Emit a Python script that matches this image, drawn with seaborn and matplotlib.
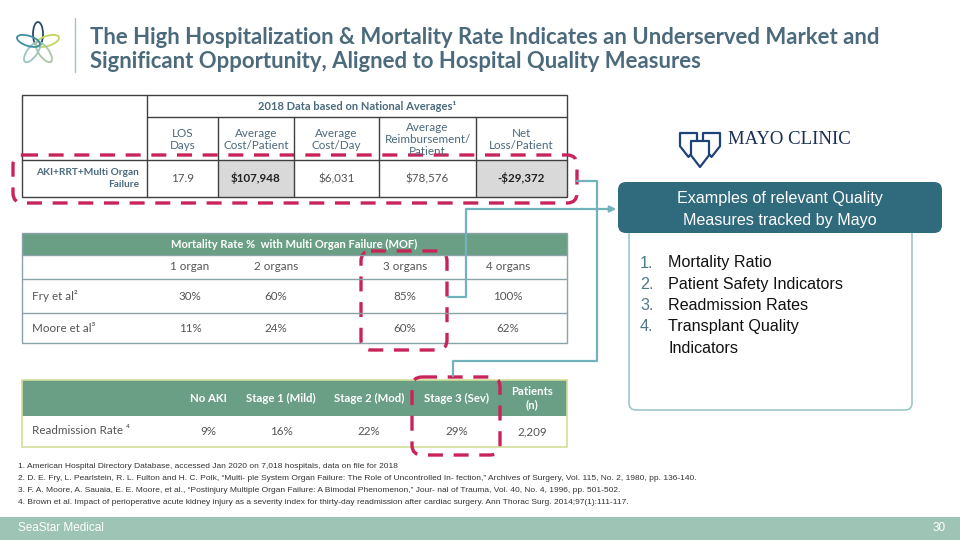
import numpy as np
import matplotlib
matplotlib.use("Agg")
import matplotlib.pyplot as plt
import seaborn as sns
from matplotlib.patches import Rectangle, FancyBboxPatch, Ellipse, Polygon

# ---- data ----
title_lines = ["The High Hospitalization & Mortality Rate Indicates an Underserved Market and",
               "Significant Opportunity, Aligned to Hospital Quality Measures"]

cost_header = "2018 Data based on National Averages\u00b9"
cost_cols = ["LOS\nDays", "Average\nCost/Patient", "Average\nCost/Day",
             "Average\nReimbursement/\nPatient", "Net\nLoss/Patient"]
cost_row = "AKI+RRT+Multi Organ\nFailure"
cost_vals = ["17.9", "$107,948", "$6,031", "$78,576", "-$29,372"]
cost_highlight = [False, True, False, False, True]

mof_header = "Mortality Rate %  with Multi Organ Failure (MOF)"
mof_cols = ["1 organ", "2 organs", "3 organs", "4 organs"]
mof_rows = ["Fry et al\u00b2", "Moore et al\u00b3"]
fry = [30, 60, 85, 100]
moore = [11, 24, 60, 62]

readmit_cols = ["No AKI", "Stage 1 (Mild)", "Stage 2 (Mod)", "Stage 3 (Sev)", "Patients\n(n)"]
readmit_row = "Readmission Rate \u2074"
readmit_rates = [9, 16, 22, 29]
readmit_n = "2,209"

mayo_title = ["Examples of relevant Quality", "Measures tracked by Mayo", "Clinic"]
mayo_items = [["Mortality Ratio"], ["Patient Safety Indicators"], ["Readmission Rates"],
              ["Transplant Quality", "Indicators"]]

footnotes = [
    "1. American Hospital Directory Database, accessed Jan 2020 on 7,018 hospitals, data on file for 2018",
    "2. D. E. Fry, L. Pearlstein, R. L. Fulton and H. C. Polk, \u201cMulti- ple System Organ Failure: The Role of Uncontrolled In- fection,\u201d Archives of Surgery, Vol. 115, No. 2, 1980, pp. 136-140.",
    "3. F. A. Moore, A. Sauaia, E. E. Moore, et al., \u201cPostinjury Multiple Organ Failure: A Bimodal Phenomenon,\u201d Jour- nal of Trauma, Vol. 40, No. 4, 1996, pp. 501-502.",
    "4. Brown et al. Impact of perioperative acute kidney injury as a severity index for thirty-day readmission after cardiac surgery. Ann Thorac Surg. 2014;97(1):111-117.",
]
footer_left = "SeaStar Medical"
page_no = "30"

# ---- style ----
sns.set_theme(style="white")
plt.rcParams["font.family"] = ["Lato", "DejaVu Sans"]
plt.rcParams["text.parse_math"] = False

SLATE = "#4b6a7b"
GREEN = "#6a9f86"
RED = "#c9245a"
TEAL = "#72b2ba"
GREY_TXT = "#555555"
ARIAL = ["Liberation Sans", "DejaVu Sans"]

fig = plt.figure(figsize=(9.6, 5.4), dpi=100)
ax = fig.add_axes([0, 0, 1, 1])
ax.set_xlim(0, 960)
ax.set_ylim(540, 0)
ax.axis("off")

# ---- logo + title ----
cx, cy = 38, 44
petal_cols = ["#2c4a6a", "#c6d55c", "#a9c8a2", "#9cc4c0", "#3f8fa0"]
for k, c in enumerate(petal_cols):
    ang = -90 + 72 * k
    px = cx + 10 * np.cos(np.radians(ang))
    py = cy + 10 * np.sin(np.radians(ang))
    ax.add_patch(Ellipse((px, py), 10, 24, angle=ang + 90, fill=False, ec=c, lw=1.3))
ax.plot([75, 75], [18, 72], color="#a9c5bb", lw=1)
for i, t in enumerate(title_lines):
    ax.text(90, 37 + 25 * i, t, fontsize=15.9, fontweight="bold", color=SLATE, va="center", ha="left")

# ---- table 1 : costs ----
x0, x1 = 22, 567
col_edges = [147, 218, 294, 379, 476, 567]
y_top, y_h2, y_data, y_bot = 95, 117, 160, 197
for xi, v, hl in zip(range(5), cost_vals, cost_highlight):
    if hl:
        ax.add_patch(Rectangle((col_edges[xi], y_data), col_edges[xi + 1] - col_edges[xi],
                               y_bot - y_data, fc="#d9d9d9", ec="none"))
ax.add_patch(Rectangle((x0, y_top), x1 - x0, y_bot - y_top, fill=False, ec="#404040", lw=1))
ax.plot([147, 147], [y_top, y_bot], color="#404040", lw=1)
ax.plot([147, x1], [y_h2, y_h2], color="#404040", lw=1)
ax.plot([x0, x1], [y_data, y_data], color="#404040", lw=1)
for xe in col_edges[1:-1]:
    ax.plot([xe, xe], [y_h2, y_bot], color="#404040", lw=1)
ax.text((147 + x1) / 2, (y_top + y_h2) / 2, cost_header, fontsize=8, fontweight="bold",
        color=SLATE, ha="center", va="center")
for i, (lab, v, hl) in enumerate(zip(cost_cols, cost_vals, cost_highlight)):
    xc = (col_edges[i] + col_edges[i + 1]) / 2
    ax.text(xc, (y_h2 + y_data) / 2 + 1, lab, fontsize=8.4, color=SLATE, ha="center", va="center",
            linespacing=1.15)
    ax.text(xc, (y_data + y_bot) / 2, v, fontsize=8.4, color="#222222" if hl else GREY_TXT,
            fontweight="bold" if hl else "normal", ha="center", va="center")
ax.text(139, (y_data + y_bot) / 2, cost_row, fontsize=7.3, fontweight="bold", color=SLATE,
        ha="right", va="center", multialignment="right", linespacing=1.45)

# ---- table 2 : mortality ----
t2_top, t2_h, r1, r2, r3 = 233, 255, 279, 313, 343
mof_x = [190, 276, 405, 508]
ax.add_patch(Rectangle((x0, t2_top), x1 - x0, t2_h - t2_top, fc=GREEN, ec="none"))
ax.add_patch(Rectangle((x0, t2_top), x1 - x0, r3 - t2_top, fill=False, ec="#8aa3a8", lw=1))
for yl in [t2_h, r1, r2]:
    ax.plot([x0, x1], [yl, yl], color="#8aa3a8", lw=1)
ax.text((x0 + x1) / 2, (t2_top + t2_h) / 2, mof_header, fontsize=8, fontweight="bold",
        color="white", ha="center", va="center")
for xc, lab in zip(mof_x, mof_cols):
    ax.text(xc, (t2_h + r1) / 2, lab, fontsize=8.4, color=GREY_TXT, ha="center", va="center")
for row_lab, vals, (ya, yb) in zip(mof_rows, [fry, moore], [(r1, r2), (r2, r3)]):
    ax.text(32, (ya + yb) / 2, row_lab, fontsize=8.4, color=GREY_TXT, ha="left", va="center")
    for xc, v in zip(mof_x, vals):
        ax.text(xc, (ya + yb) / 2, f"{v}%", fontsize=8.4, color=GREY_TXT, ha="center", va="center")

# ---- table 3 : readmission ----
t3_top, t3_h, t3_bot = 380, 416, 447
rd_x = [208, 281, 369, 457, 532]
ax.add_patch(Rectangle((x0, t3_top), x1 - x0, t3_h - t3_top, fc=GREEN, ec="none"))
ax.add_patch(Rectangle((x0, t3_top), x1 - x0, t3_bot - t3_top, fill=False, ec="#d2de9a", lw=1.2))
for xc, lab in zip(rd_x, readmit_cols):
    ax.text(xc, (t3_top + t3_h) / 2, lab, fontsize=8.2, fontweight="bold", color="white",
            ha="center", va="center", linespacing=1.3)
ax.text(32, (t3_h + t3_bot) / 2 - 1, readmit_row, fontsize=8.4, color=GREY_TXT, ha="left", va="center")
for xc, v in zip(rd_x, readmit_rates + [None]):
    ax.text(xc, (t3_h + t3_bot) / 2, f"{v}%" if v is not None else readmit_n, fontsize=8.4,
            color=GREY_TXT, ha="center", va="center")

# ---- connectors ----
ax.plot([577, 597, 597, 453, 453], [181, 181, 361, 361, 376], color=TEAL, lw=1.6)
ax.plot([448, 466, 466, 612], [297, 297, 209, 209], color=TEAL, lw=1.6)
ax.annotate("", xy=(619, 209), xytext=(605, 209),
            arrowprops=dict(arrowstyle="-|>", color=TEAL, lw=1.6, mutation_scale=9))

# ---- dashed highlight boxes ----
dash = dict(fill=False, ec=RED, lw=2.4, linestyle=(0, (4.5, 3.2)))
ax.add_patch(FancyBboxPatch((13, 155), 564, 48, boxstyle="round,pad=0,rounding_size=10", **dash))
ax.add_patch(FancyBboxPatch((361, 251), 86, 99, boxstyle="round,pad=0,rounding_size=10", **dash))
ax.add_patch(FancyBboxPatch((412, 377), 88, 78, boxstyle="round,pad=0,rounding_size=10", **dash))

# ---- Mayo clinic panel ----
def shield(x, y, w, h):
    pts = [(x, y), (x + w, y), (x + w, y + h * 0.55), (x + w * 0.5, y + h), (x, y + h * 0.55)]
    return Polygon(pts, closed=True, fc="white", ec="#1f4279", lw=1.6, joinstyle="round")

ax.add_patch(shield(680, 133, 17, 24))
ax.add_patch(shield(703, 133, 17, 24))
ax.add_patch(shield(691, 141, 18, 26))
ax.text(728, 140, "MAYO CLINIC", family=["Liberation Serif", "DejaVu Serif"], fontsize=13.5,
        color="#1a2f55", ha="left", va="center")

ax.add_patch(FancyBboxPatch((629, 225), 283, 185, boxstyle="round,pad=0,rounding_size=7",
                            fc="white", ec="#9cc7cc", lw=1.2))
ax.add_patch(FancyBboxPatch((618, 182), 324, 51, boxstyle="round,pad=0,rounding_size=8",
                            fc="#2f6a7d", ec="none"))
for k, line in enumerate(mayo_title):
    ax.text(780, 199 + 21 * k, line, family=ARIAL, fontsize=11.6, color="white",
            ha="center", va="center", zorder=0 if k == 2 else 3)

item_y = 263
for k, lines in enumerate(mayo_items):
    ax.text(640, item_y, f"{k + 1}.", family=ARIAL, fontsize=11.6, color="#4f7888", ha="left", va="center")
    for line in lines:
        ax.text(668, item_y, line, family=ARIAL, fontsize=11.6, color="#111111", ha="left", va="center")
        item_y += 21.3

# ---- footnotes + footer ----
for k, fn in enumerate(footnotes):
    ax.text(18, 467 + 12 * k, fn, family=ARIAL, fontsize=6.05, color="#333333", ha="left", va="center")
ax.add_patch(Rectangle((0, 517), 960, 23, fc="#9dc4b5", ec="none"))
ax.text(18, 528, footer_left, family=ARIAL, fontsize=8.5, color="white", ha="left", va="center")
ax.text(946, 528, page_no, family=ARIAL, fontsize=8.5, color="white", ha="right", va="center")

fig.savefig("out.png", dpi=100)
